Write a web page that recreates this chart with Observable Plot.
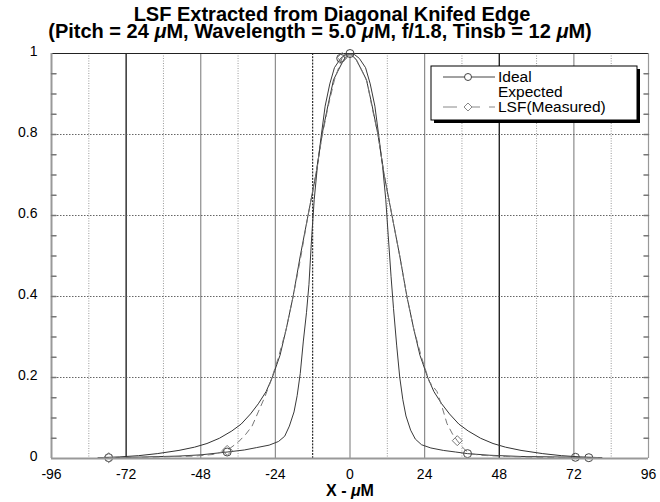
<!DOCTYPE html>
<html><head><meta charset="utf-8">
<script src="https://cdn.jsdelivr.net/npm/d3@7"></script>
<script src="https://cdn.jsdelivr.net/npm/@observablehq/plot@0.6"></script>
<style>body{margin:0;background:#fff} svg{font-family:"Liberation Sans",Arial,sans-serif}</style>
</head><body><div id="chart"></div>
<script>
const titleLine1 = "LSF Extracted from Diagonal Knifed Edge";
const titleLine2 = "(Pitch = 24 μM, Wavelength = 5.0 μM, f/1.8, Tinsb = 12 μM)";
const xLabel = "X - μM";
const seriesNames = ["Ideal", "Expected", "LSF(Measured)"];

const xDomain = [-96, 96];
const yDomain = [0, 1];
const xTicks = [-96, -72, -48, -24, 0, 24, 48, 72, 96];
const yTicks = [0, 0.2, 0.4, 0.6, 0.8, 1];
const yMinor = [0.05,0.1,0.15,0.2,0.25,0.3,0.35,0.4,0.45,0.5,0.55,0.6,0.65,0.7,0.75,0.8,0.85,0.9,0.95];
const gridBlack = [-72, 48];
const gridGray = [-48, -24, 0, 24, 72];
const gridDotted = [-84, -60, -36, 12, 36, 60, 84];
const gridDashDot = [-12];
const gridY = [0.2, 0.4, 0.6, 0.8];

const idealX = [-81,-77.6,-70,-65,-60,-55,-48,-39.5,-34,-30,-26,-23,-21,-19.5,-18,-17,-16,-15,-14,-13.2,-12.3,-11.5,-10.5,-9.2,-8,-6.5,-5,-3,-1.5,0,1.5,3,5,6.5,8,9.2,10.5,11.5,12.3,13.2,14,15,16,17,18,19.5,21,23,26,30,34,37.8,45,55,65,72.5,76.8,81];
const idealY = [0.001,0.002,0.003,0.004,0.005,0.006,0.009,0.016,0.021,0.027,0.033,0.042,0.055,0.08,0.115,0.155,0.21,0.29,0.36,0.43,0.55,0.64,0.72,0.8,0.87,0.925,0.965,0.988,0.997,1.0,0.997,0.988,0.965,0.925,0.87,0.8,0.72,0.64,0.55,0.45,0.37,0.28,0.2,0.145,0.105,0.07,0.048,0.034,0.026,0.02,0.016,0.012,0.008,0.005,0.004,0.003,0.002,0.001];
const idealMarkX = [-77.6, -39.5, -3, 0, 37.8, 72.5, 76.8];

const expX = [-81,-74,-68,-62,-55,-50,-46,-42,-38,-35,-32,-29.5,-27,-25,-22.5,-20.5,-18.3,-16,-13.5,-11,-9,-7,-5.3,-4,-2,0,2,4,5.3,7,9,11,13.5,16,18.3,20.5,22.5,25,27,29.5,32,35,38,42,46,50,55,62,68,74,81];
const expY = [0.002,0.004,0.007,0.012,0.02,0.028,0.037,0.05,0.068,0.085,0.11,0.135,0.165,0.2,0.255,0.32,0.4,0.5,0.6,0.7,0.8,0.875,0.935,0.955,0.985,1.0,0.985,0.955,0.935,0.875,0.8,0.7,0.6,0.5,0.4,0.32,0.255,0.2,0.165,0.135,0.11,0.085,0.068,0.05,0.037,0.028,0.02,0.012,0.007,0.004,0.002];

const measX = [-81,-77.6,-70,-60,-50,-44,-39.5,-36,-33.5,-31.5,-29.5,-27.5,-25.5,-23,-20.5,-18.3,-16,-13.5,-11,-9,-7,-5,-2.5,-1,0.5,2,4,5.5,7,9,11,13.5,16,18.3,20.5,23,25.5,28,29.5,31.2,33,34.5,36.5,38.5,42,50,60,70,72.5,81];
const measY = [0.001,0.002,0.002,0.004,0.006,0.01,0.02,0.04,0.06,0.08,0.115,0.15,0.19,0.25,0.32,0.4,0.49,0.6,0.7,0.795,0.87,0.935,0.99,0.998,0.997,0.985,0.955,0.93,0.87,0.8,0.7,0.6,0.5,0.4,0.32,0.25,0.19,0.165,0.13,0.086,0.06,0.044,0.025,0.012,0.008,0.005,0.003,0.002,0.002,0.001];
const measMarkX = [-77.6, -39.5, -2.5, 34.5];

const zip = (xs, ys) => xs.map((x, i) => ({x, y: ys[i]}));
const ideal = zip(idealX, idealY);
const expected = zip(expX, expY);
const measured = zip(measX, measY);
const idealMarks = ideal.filter(d => idealMarkX.includes(d.x));
const measMarks = measured.filter(d => measMarkX.includes(d.x));

const tickShape = {draw(ctx, l) { ctx.moveTo(0, 0); ctx.lineTo(0, -l); }};

const plot = Plot.plot({
  width: 660, height: 502,
  marginLeft: 51, marginRight: 12, marginTop: 53, marginBottom: 44,
  x: {domain: xDomain},
  y: {domain: yDomain},
  style: {fontFamily: "'Liberation Sans', Arial, sans-serif", fontSize: "14px", color: "#000", background: "#fff", overflow: "visible"},
  marks: [
    Plot.ruleX(gridDotted, {x: d => d, stroke: "#999", strokeWidth: 1, strokeDasharray: "1,1.5"}),
    Plot.ruleX(gridGray, {x: d => d, stroke: "#8c8c8c", strokeWidth: 1.2}),
    Plot.ruleX(gridBlack, {x: d => d, stroke: "#000", strokeWidth: 1.2}),
    Plot.ruleX(gridDashDot, {x: d => d, stroke: "#000", strokeWidth: 1, strokeDasharray: "2,1.2"}),
    Plot.ruleY(gridY, {y: d => d, stroke: "#555", strokeWidth: 0.9, strokeDasharray: "1.5,1.5"}),
    Plot.ruleY([yDomain[1]], {y: d => d, stroke: "#222", strokeWidth: 1}),
    Plot.ruleX([xDomain[1]], {x: d => d, stroke: "#999", strokeWidth: 1.2}),
    Plot.ruleX([xDomain[0]], {x: d => d, stroke: "#999", strokeWidth: 2}),
    Plot.vector(yMinor, {y: d => d, frameAnchor: "left", length: 4.5, rotate: 90, anchor: "start", shape: tickShape, stroke: "#777"}),
    Plot.vector(yMinor, {y: d => d, frameAnchor: "right", length: 4.5, rotate: -90, anchor: "start", shape: tickShape, stroke: "#777"}),
    Plot.line(expected, {x: "x", y: "y", stroke: "#333", strokeWidth: 1}),
    Plot.line(ideal, {x: "x", y: "y", stroke: "#3a3a3a", strokeWidth: 1}),
    Plot.line(measured, {x: "x", y: "y", stroke: "#777", strokeWidth: 1, strokeDasharray: "6,5"}),
    Plot.dot(idealMarks, {x: "x", y: "y", r: 4, stroke: "#444", fill: "none", strokeWidth: 1}),
    Plot.dot(measMarks, {x: "x", y: "y", r: 4.5, symbol: "diamond2", stroke: "#777", fill: "none", strokeWidth: 1}),
    Plot.ruleY([yDomain[0]], {y: d => d, stroke: "#999", strokeWidth: 2.2}),
    Plot.axisX({ticks: xTicks, tickSize: 0, tickPadding: 11, fontSize: 14, label: null, tickFormat: d => String(d)}),
    Plot.axisY({ticks: yTicks, tickSize: 0, tickPadding: 14, fontSize: 14, label: null, dy: -2, tickFormat: d => String(d)}),
    Plot.text([titleLine1 + "\n" + titleLine2], {text: d => d, frameAnchor: "top", lineAnchor: "top", lineHeight: 0.85, dy: -45, dx: -25, fontSize: 20, fontWeight: "bold", className: "chart-title"}),
    Plot.text([xLabel], {text: d => d, frameAnchor: "bottom", dy: 37, fontSize: 16, fontWeight: "bold"})
  ]
});

const svg = d3.select(plot);
// shift title lines individually
const titleTspans = svg.selectAll(".chart-title text > tspan").nodes();
if (titleTspans.length === 2) {
  titleTspans[0].setAttribute("x", 7);
  titleTspans[1].setAttribute("x", -5);
}
// legend
const lg = svg.append("g").attr("transform", "translate(431,66)").attr("text-anchor", "start");
lg.append("rect").attr("x", 3).attr("y", 3).attr("width", 206).attr("height", 54).attr("fill", "#000");
lg.append("rect").attr("width", 206).attr("height", 54).attr("fill", "#fff").attr("stroke", "#000").attr("stroke-width", 1);
const rows = [
  {name: seriesNames[0], stroke: "#444", dash: null, marker: "circle"},
  {name: seriesNames[1], stroke: null, dash: null, marker: null},
  {name: seriesNames[2], stroke: "#888", dash: "14,9", marker: "diamond"}
];
rows.forEach((r, i) => {
  const cy = 11 + i * 15;
  if (r.stroke) {
    lg.append("line").attr("x1", 12).attr("x2", 64).attr("y1", cy).attr("y2", cy)
      .attr("stroke", r.stroke).attr("stroke-dasharray", r.dash);
  }
  if (r.marker === "circle") lg.append("circle").attr("cx", 37).attr("cy", cy).attr("r", 3.5).attr("fill", "#fff").attr("stroke", r.stroke);
  if (r.marker === "diamond") lg.append("path").attr("d", `M37,${cy-4}L41,${cy}L37,${cy+4}L33,${cy}Z`).attr("fill", "#fff").attr("stroke", r.stroke);
  lg.append("text").attr("x", 67).attr("y", cy).attr("dy", "0.35em").attr("text-anchor", "start").attr("font-size", 15.5).text(r.name);
});
// italic mu
function italicMu(node) {
  if (node.childNodes.length !== 1 || node.firstChild.nodeType !== 3) return;
  const t = node.textContent;
  if (!t.includes("μ")) return;
  const el = d3.select(node);
  const parts = t.split("μ");
  el.text(null);
  parts.forEach((p, i) => {
    if (i > 0) el.append("tspan").attr("font-style", "italic").text("μ");
    if (p) el.append("tspan").text(p);
  });
}
svg.selectAll("text, tspan").nodes().forEach(italicMu);
document.getElementById("chart").appendChild(plot);
</script>
</body></html>
